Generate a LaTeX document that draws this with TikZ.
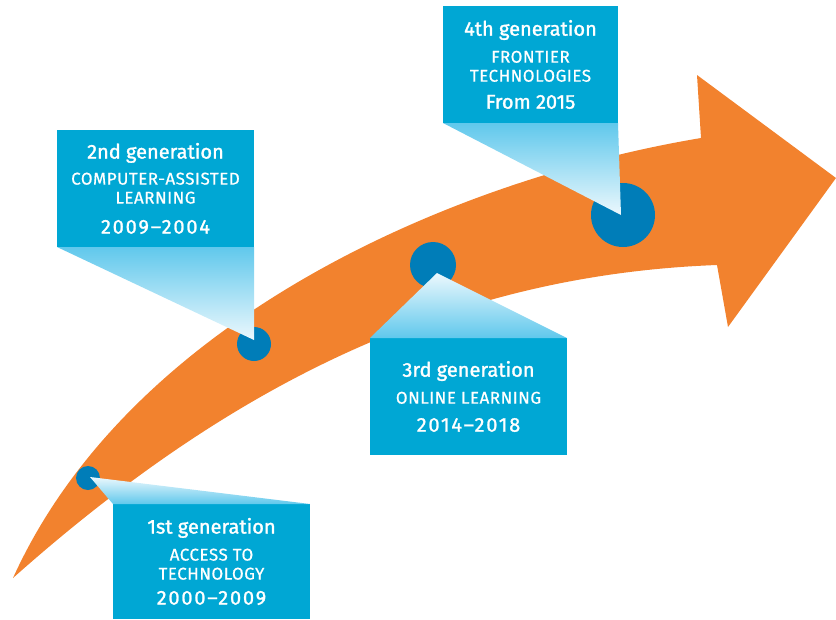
\documentclass[tikz,border=0pt]{standalone}
\usepackage{fontspec}
\setmainfont{Fira Sans}[FakeBold=0.6, LetterSpace=3]
\newfontfamily\genheavy{Fira Sans}[FakeBold=1.4]
\newfontfamily\genwide{Fira Sans}[FakeBold=1.2, LetterSpace=9]

\definecolor{arroworange}{RGB}{242,130,46}
\definecolor{boxblue}{RGB}{0,167,212}
\definecolor{dotblue}{RGB}{0,125,184}
\definecolor{fadeblue}{RGB}{96,200,236}
\definecolor{fadewhite}{RGB}{236,248,253}

\newcommand\gentitle{\genheavy\fontsize{20}{18}\selectfont}
\newcommand\genyear{\genwide\fontsize{20}{18}\selectfont}

\begin{document}
\begin{tikzpicture}
  [x=1pt, y=-1pt,
    every node/.style={inner sep=0pt, outer sep=0pt},
    genbox/.style={fill=boxblue, text=white, align=center,
      font=\fontsize{17}{19}\selectfont, minimum width=197, minimum height=117},
    dot/.style={circle, fill=dotblue},
    fadedown/.style={top color=fadeblue, bottom color=fadewhite},
    fadeup/.style={top color=fadewhite, bottom color=fadeblue},
  ]
  \useasboundingbox (0,0) rectangle (836,619);

  \fill[arroworange] (13,578) .. controls (130,320) and (450,180) .. (701,138)
    -- (697,75) -- (836,178) -- (728,327) -- (717,265)
    .. controls (450,275) and (230,385) .. (13,578) -- cycle;

  \node[dot, minimum size=24] (d1) at (88,478) {};
  \node[dot, minimum size=34] (d2) at (254,344) {};
  \node[dot, minimum size=46] (d3) at (433,265) {};
  \node[dot, minimum size=64] (d4) at (623,215) {};

  \coordinate (p1) at (90,477);
  \coordinate (p2) at (254,340);
  \coordinate (p3) at (437,273);
  \coordinate (p4) at (621,215);

  \node[genbox, minimum height=115] (g1) at (211.5,561.5)
    {{\gentitle 1st generation}\\[8pt] ACCESS TO\\ TECHNOLOGY\\[6pt] {\genyear 2000–2009}};
  \node[genbox] (g2) at (155.5,188.5)
    {{\gentitle 2nd generation}\\[7pt] COMPUTER-ASSISTED\\ LEARNING\\[11pt] {\genyear 2009–2004}};
  \node[genbox] (g3) at (468.5,396.5)
    {{\gentitle 3rd generation}\\[8pt] ONLINE LEARNING\\[9pt] {\genyear 2014–2018}};
  \node[genbox, minimum width=175] (g4) at (530.5,64.5)
    {{\gentitle 4th generation}\\[8pt] FRONTIER\\ TECHNOLOGIES\\[8pt] {\gentitle From 2015}};

  \shade[fadeup] (p1) -- (g1.north west) -- (g1.north east) -- cycle;
  \shade[fadedown] (g2.south west) -- (g2.south east) -- (p2) -- cycle;
  \shade[fadeup] (p3) -- (g3.north west) -- (g3.north east) -- cycle;
  \shade[fadedown] (g4.south west) -- (g4.south east) -- (p4) -- cycle;
\end{tikzpicture}
\end{document}
